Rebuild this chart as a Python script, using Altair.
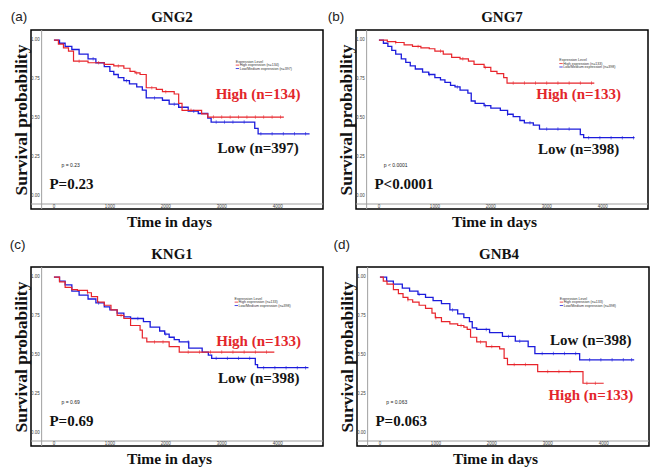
import altair as alt
import pandas as pd
import numpy as np

RED = "#e8242b"
BLUE = "#1c1cdc"

# ---------------- data ----------------
genes = ["GNG2", "GNG7", "KNG1", "GNB4"]
panel_tags = ["(a)", "(b)", "(c)", "(d)"]

gng2_high_days = [0, 80, 170, 260, 350, 610, 900, 1070, 1250, 1360, 1450, 1540, 1650, 1830, 1940, 2150, 2230, 2290, 2640, 2750, 4110]
gng2_high_prob = [1.0, 0.975, 0.95, 0.93, 0.865, 0.855, 0.845, 0.835, 0.82, 0.80, 0.79, 0.78, 0.695, 0.685, 0.67, 0.655, 0.595, 0.55, 0.528, 0.507, 0.507]
gng2_low_days = [0, 100, 200, 320, 450, 610, 750, 900, 1000, 1070, 1150, 1250, 1350, 1480, 1580, 1650, 1940, 2060, 2230, 2400, 2580, 2750, 2810, 3590, 3650, 4570]
gng2_low_prob = [1.0, 0.98, 0.96, 0.94, 0.91, 0.88, 0.855, 0.83, 0.80, 0.78, 0.76, 0.74, 0.72, 0.70, 0.68, 0.63, 0.615, 0.59, 0.57, 0.545, 0.53, 0.50, 0.475, 0.435, 0.40, 0.40]

gng7_high_days = [0, 150, 300, 450, 600, 750, 900, 1000, 1150, 1300, 1450, 1600, 1700, 1880, 2000, 2110, 2230, 2290, 3850]
gng7_high_prob = [1.0, 0.99, 0.985, 0.97, 0.96, 0.95, 0.945, 0.93, 0.91, 0.89, 0.88, 0.865, 0.845, 0.825, 0.80, 0.785, 0.76, 0.725, 0.725]
gng7_low_days = [0, 80, 160, 230, 300, 400, 480, 560, 650, 780, 890, 1000, 1100, 1180, 1280, 1360, 1450, 1590, 1650, 1720, 1880, 2000, 2170, 2300, 2400, 2520, 2600, 2760, 2870, 3600, 3660, 4570]
gng7_low_prob = [1.0, 0.98, 0.96, 0.935, 0.91, 0.88, 0.857, 0.835, 0.815, 0.795, 0.78, 0.76, 0.745, 0.73, 0.71, 0.70, 0.68, 0.66, 0.61, 0.595, 0.58, 0.565, 0.55, 0.525, 0.51, 0.485, 0.47, 0.455, 0.43, 0.395, 0.375, 0.375]

kng1_high_days = [0, 100, 200, 320, 420, 600, 670, 780, 900, 1020, 1130, 1250, 1370, 1540, 1580, 1660, 2060, 2240, 3940]
kng1_high_prob = [1.0, 0.97, 0.935, 0.92, 0.915, 0.90, 0.875, 0.84, 0.82, 0.79, 0.755, 0.735, 0.69, 0.66, 0.61, 0.585, 0.555, 0.52, 0.52]
kng1_low_days = [0, 100, 200, 320, 450, 610, 750, 900, 1000, 1130, 1250, 1370, 1600, 1720, 1890, 1980, 2060, 2150, 2240, 2410, 2650, 2760, 2820, 3600, 3640, 4550]
kng1_low_prob = [1.0, 0.975, 0.95, 0.91, 0.885, 0.86, 0.835, 0.81, 0.79, 0.77, 0.745, 0.735, 0.715, 0.68, 0.655, 0.635, 0.615, 0.60, 0.585, 0.545, 0.52, 0.50, 0.48, 0.44, 0.42, 0.42]

gnb4_high_days = [0, 60, 126, 241, 330, 413, 500, 585, 700, 815, 930, 990, 1100, 1250, 1390, 1500, 1560, 1620, 1730, 1900, 2140, 2220, 2280, 2820, 3630, 4000]
gnb4_high_prob = [1.0, 0.975, 0.955, 0.92, 0.895, 0.87, 0.855, 0.84, 0.82, 0.80, 0.77, 0.74, 0.715, 0.70, 0.69, 0.68, 0.665, 0.615, 0.585, 0.555, 0.54, 0.48, 0.44, 0.395, 0.32, 0.32]
gnb4_low_days = [0, 120, 240, 400, 530, 680, 815, 950, 1100, 1250, 1390, 1500, 1600, 1650, 1730, 1960, 2190, 2420, 2650, 2770, 3570, 4545]
gnb4_low_prob = [1.0, 0.975, 0.955, 0.93, 0.91, 0.89, 0.87, 0.85, 0.83, 0.79, 0.765, 0.74, 0.715, 0.675, 0.665, 0.645, 0.62, 0.59, 0.555, 0.51, 0.47, 0.47]

gng2_high_cens = [450, 800, 1150, 1480, 1750, 2000, 2450, 2850, 3000, 3150, 3300, 3450, 3600, 3750, 3900, 4050]
gng2_low_cens = [700, 1300, 1800, 2150, 2500, 2900, 3050, 3200, 3400, 3700, 3900, 4100, 4300, 4500]
gng7_high_cens = [300, 700, 1100, 1500, 1900, 2400, 2600, 2800, 3000, 3200, 3400, 3600, 3800]
gng7_low_cens = [900, 1400, 1900, 2300, 2700, 3000, 3200, 3400, 3750, 3950, 4150, 4350, 4550]
kng1_high_cens = [600, 1200, 1800, 1950, 2400, 2600, 2800, 3000, 3200, 3400, 3600, 3800]
kng1_low_cens = [800, 1500, 2000, 2400, 2900, 3100, 3300, 3500, 3750, 3950, 4150, 4350, 4500]
gnb4_high_cens = [500, 1000, 1450, 1800, 2000, 2400, 2600, 3000, 3200, 3400, 3700, 3850]
gnb4_low_cens = [700, 1300, 1900, 2300, 2500, 2900, 3100, 3300, 3500, 3750, 3950, 4150, 4350, 4500]

high_labels = ["High (n=134)", "High (n=133)", "High (n=133)", "High (n=133)"]
low_labels = ["Low (n=397)", "Low (n=398)", "Low (n=398)", "Low (n=398)"]
small_p = ["p = 0.23", "p < 0.0001", "p = 0.69", "p = 0.063"]
big_p = ["P=0.23", "P<0.0001", "P=0.69", "P=0.063"]
legend_high = ["High expression (n=134)", "High expression (n=133)", "High expression (n=133)", "High expression (n=133)"]
legend_low = ["Low/Medium expression (n=397)", "Low/Medium expression (n=398)", "Low/Medium expression (n=398)", "Low/Medium expression (n=398)"]

# annotation anchor positions (data coordinates: days, probability)
high_pos = [(3650, 0.652), (3570, 0.653), (3660, 0.59), (3770, 0.243)]
low_pos = [(3650, 0.306), (3570, 0.30), (3660, 0.354), (3770, 0.595)]
tag_pos = [(-770, 1.195), (-915, 1.195), (-790, 1.25), (-830, 1.25)]
gene_pos = [(2110, 1.15), (2200, 1.15), (2110, 1.15), (2130, 1.15)]
legend_pos = [(3250, 0.862), (3225, 0.872), (3230, 0.862), (3215, 0.862)]

y_ticks = [0.0, 0.25, 0.50, 0.75, 1.0]
y_tick_text = ["0.00", "0.25", "0.50", "0.75", "1.00"]
x_ticks = [0, 1000, 2000, 3000, 4000]
x_tick_text = ["0", "1000", "2000", "3000", "4000"]

series = [
    (gng2_high_days, gng2_high_prob, gng2_low_days, gng2_low_prob, gng2_high_cens, gng2_low_cens),
    (gng7_high_days, gng7_high_prob, gng7_low_days, gng7_low_prob, gng7_high_cens, gng7_low_cens),
    (kng1_high_days, kng1_high_prob, kng1_low_days, kng1_low_prob, kng1_high_cens, kng1_low_cens),
    (gnb4_high_days, gnb4_high_prob, gnb4_low_days, gnb4_low_prob, gnb4_high_cens, gnb4_low_cens),
]

# ---------------- chart ----------------
W, H = 292, 179
XS = alt.Scale(domain=[-410, 4810], nice=False, zero=False)
YS = alt.Scale(domain=[-0.082, 1.065], nice=False, zero=False)
SERIF = "Liberation Serif"
SANS = "Liberation Sans"


def X(field="day"):
    return alt.X(f"{field}:Q", scale=XS, axis=alt.Axis(
        title="Time in days", labels=False, ticks=False, domain=False, grid=False,
        titleFont=SERIF, titleFontWeight="bold", titleFontSize=15.5, titleColor="#111",
        titleX=138, titleAlign="center", titlePadding=5))


def Y(field="prob"):
    return alt.Y(f"{field}:Q", scale=YS, axis=alt.Axis(
        title="Survival probability", labels=False, ticks=False, domain=False, grid=False,
        titleFont=SERIF, titleFontWeight="bold", titleFontSize=17.5, titleColor="#111",
        titlePadding=1))


def step_lookup(days, prob, pts):
    idx = np.searchsorted(np.array(days), np.array(pts), side="right") - 1
    return [prob[i] for i in idx]


def txt(day, prob, text, **kw):
    return alt.Chart(pd.DataFrame({"day": [day], "prob": [prob], "t": [text]})).mark_text(**kw).encode(
        x=X(), y=Y(), text="t:N")


def panel(i):
    hd, hp, ld, lp, hc, lc = series[i]
    layers = []
    layers.append(alt.Chart(pd.DataFrame({"day": [-220]})).mark_rule(color="#a0a0a0", strokeWidth=1).encode(x=X()))
    layers.append(alt.Chart(pd.DataFrame({"prob": [-0.05]})).mark_rule(color="#a0a0a0", strokeWidth=1).encode(y=Y()))

    low_df = pd.DataFrame({"day": ld, "prob": lp})
    high_df = pd.DataFrame({"day": hd, "prob": hp})
    layers.append(alt.Chart(low_df).mark_line(interpolate="step-after", color=BLUE, strokeWidth=1.3).encode(x=X(), y=Y()))
    layers.append(alt.Chart(high_df).mark_line(interpolate="step-after", color=RED, strokeWidth=1.2).encode(x=X(), y=Y()))
    lc_df = pd.DataFrame({"day": lc, "prob": step_lookup(ld, lp, lc)})
    hc_df = pd.DataFrame({"day": hc, "prob": step_lookup(hd, hp, hc)})
    layers.append(alt.Chart(lc_df).mark_tick(orient="vertical", size=3.5, thickness=0.8, color=BLUE).encode(x=X(), y=Y()))
    layers.append(alt.Chart(hc_df).mark_tick(orient="vertical", size=3.5, thickness=0.8, color=RED).encode(x=X(), y=Y()))

    # tiny tick labels
    yt = pd.DataFrame({"day": [-255] * len(y_ticks), "prob": y_ticks, "t": y_tick_text})
    xt = pd.DataFrame({"day": x_ticks, "prob": [-0.066] * len(x_ticks), "t": x_tick_text})
    layers.append(alt.Chart(yt).mark_text(fontSize=4.5, font=SANS, align="right", baseline="middle", color="#444").encode(x=X(), y=Y(), text="t:N"))
    layers.append(alt.Chart(xt).mark_text(fontSize=4.5, font=SANS, align="center", baseline="middle", color="#444").encode(x=X(), y=Y(), text="t:N"))

    # big annotations
    hx, hy = high_pos[i]
    lx, ly = low_pos[i]
    layers.append(txt(hx, hy, high_labels[i], font=SERIF, fontWeight="bold", fontSize=15, color="#e3262b", align="center", baseline="middle"))
    layers.append(txt(lx, ly, low_labels[i], font=SERIF, fontWeight="bold", fontSize=15, color="#151515", align="center", baseline="middle"))
    layers.append(txt(300, 0.197, small_p[i], font=SANS, fontSize=5, color="#222", align="center", baseline="middle"))
    layers.append(txt(-80, 0.08, big_p[i], font=SERIF, fontWeight="bold", fontSize=15, color="#111", align="left", baseline="middle"))

    # panel tag and gene name
    tx, ty = tag_pos[i]
    layers.append(txt(tx, ty, panel_tags[i], font=SANS, fontSize=13.5, color="#222", align="left", baseline="top"))
    gx0, gy0 = gene_pos[i]
    layers.append(txt(gx0, gy0, genes[i], font=SERIF, fontWeight="bold", fontSize=15, color="#111", align="center", baseline="middle"))

    # mini legend
    gx, gy = legend_pos[i]
    leg_text = pd.DataFrame({"day": [gx, gx + 70, gx + 70],
                             "prob": [gy, gy - 0.022, gy - 0.044],
                             "t": ["Expression Level", legend_high[i], legend_low[i]]})
    layers.append(alt.Chart(leg_text).mark_text(font=SANS, fontSize=3.6, color="#333", align="left", baseline="middle").encode(x=X(), y=Y(), text="t:N"))
    leg_lines = pd.DataFrame({"day": [gx, gx], "day2": [gx + 60, gx + 60], "prob": [gy - 0.022, gy - 0.044], "g": ["High", "Low"]})
    layers.append(alt.Chart(leg_lines).mark_rule(strokeWidth=0.8).encode(
        x=X(), x2="day2:Q", y=Y(),
        color=alt.Color("g:N", scale=alt.Scale(domain=["High", "Low"], range=[RED, BLUE]), legend=None)))

    return alt.layer(*layers).properties(width=W, height=H)


row1 = alt.hconcat(panel(0), panel(1), spacing=2)
row2 = alt.hconcat(panel(2), panel(3), spacing=7)
chart = alt.vconcat(row1, row2, spacing=6).properties(
    padding={"left": 0, "top": 0, "right": 0, "bottom": 0}, background="white"
).configure_view(stroke="black", strokeWidth=1.5).configure_text(font=SERIF)

chart.save("out.html", embed_options={"renderer": "svg", "actions": False})
